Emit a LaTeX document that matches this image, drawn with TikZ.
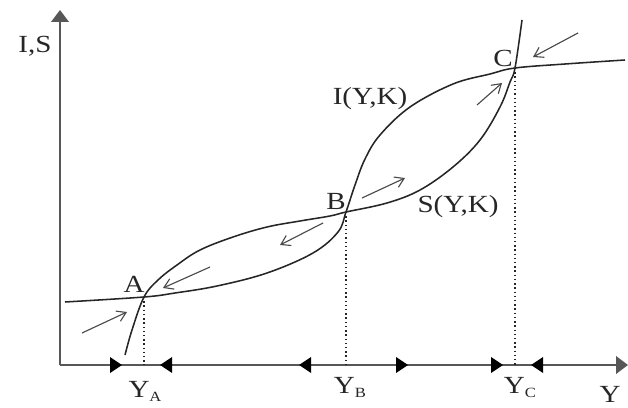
\documentclass[tikz,border=0pt]{standalone}
\usepackage{fontspec}
\setmainfont{Liberation Serif}[FakeStretch=1.18]
\usepackage{tikz}
\usetikzlibrary{arrows.meta,calc}
\definecolor{ink}     {HTML}{262626}
\definecolor{axisgray}{HTML}{575757}
\definecolor{softink} {HTML}{4A4A4A}
\newcommand{\sublbl}[1]{\raisebox{-0.4ex}{\fontsize{10}{10}\selectfont #1}}
\tikzset{
  every node/.style={font=\fontsize{17.5}{20}\selectfont, text=ink, inner sep=0pt},
  % --- lines
  axisline/.style = {draw=axisgray, line width=1.5pt, -{Triangle[length=3mm,width=4.4mm]}},
  curve/.style    = {draw=ink, line width=1.1pt, smooth, tension=0.6},
  drop/.style     = {draw=ink, dotted, line width=1pt},
  flow/.style     = {draw=softink, line width=0.8pt, -{Straight Barb[length=2.2mm,width=2.8mm]}},
  lbl/.style      = {anchor=base},
}
\begin{document}
\begin{tikzpicture}[x=0.025cm, y=0.025cm]
  \useasboundingbox (0,0) rectangle (628,407);
  \coordinate (O) at (60,42);
  \coordinate (A) at (144,110);
  \coordinate (B) at (346,195);
  \coordinate (C) at (515,339);
  % axes
  \draw[axisline] (O) -- (628,42);
  \draw[axisline] (O) -- (60,397);
  \foreach \x/\d in {116/1,166/-1,305/-1,402/1,497/1,537/-1}
    \fill[black] (\x+6*\d,42) -- ++(-12*\d,8) -- ++(0,-16) -- cycle;
  % curves
  \draw[curve] plot coordinates {(65,105) (A) (175,114) (217,121) (267,134) (313,154)
    (338,175) (B) (355,222) (365,248) (380,272) (410,300) (453,323) (490,333) (C)
    (565,343) (625,347)};
  \draw[curve] plot coordinates {(125,52) (132,77) (A) (158,127) (177,142) (200,157)
    (233,170) (267,180) (300,186) (330,191) (B) (387,204) (420,217) (453,240)
    (480,267) (500,300) (510,325) (C) (522,387)};
  \draw[drop] (A) -- (A |- O);
  \draw[drop] (B) -- (B |- O);
  \draw[drop] (C) -- (C |- O);
  % directions
  \draw[flow] (82,74) -- (127,95);
  \draw[flow] (210,140) -- (163,119);
  \draw[flow] (323,184) -- (280,162);
  \draw[flow] (362,209) -- (405,229);
  \draw[flow] (477,302) -- (502,324);
  \draw[flow] (578,374) -- (533,350);
  % labels
  \node[lbl] (lblIS) at (35,354) {I,S};
  \node[lbl] (lblA)  at (134,115) {A};
  \node[lbl] (lblB)  at (336,197) {B};
  \node[lbl] (lblC)  at (503,340) {C};
  \node[lbl] (lblI)  at (370,302) {I(Y,K)};
  \node[lbl] (lblS)  at (458,194) {S(Y,K)};
  \node[lbl] (lblYA) at (145,10) {Y\sublbl{A}};
  \node[lbl] (lblYB) at (350,14) {Y\sublbl{B}};
  \node[lbl] (lblYC) at (520,14) {Y\sublbl{C}};
  \node[lbl] (lblY)  at (610,5) {Y};
\end{tikzpicture}
\end{document}
